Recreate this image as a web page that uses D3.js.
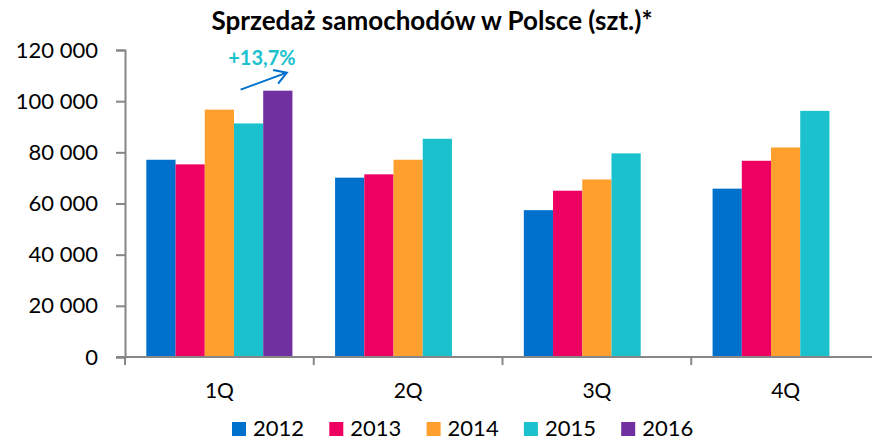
<!DOCTYPE html>
<html>
<head>
<meta charset="utf-8">
<script src="https://cdn.jsdelivr.net/npm/d3@7"></script>
<style>
  body { margin: 0; background: #fff; }
  svg text { font-family: Lato, "Open Sans", sans-serif; fill: #000; }
</style>
</head>
<body>
<div id="chart"></div>
<script>
// data
const quarters = ["1Q", "2Q", "3Q", "4Q"];
const years = ["2012", "2013", "2014", "2015", "2016"];
const sales2012 = [77100, 70100, 57400, 65800];
const sales2013 = [75300, 71400, 65000, 76700];
const sales2014 = [96700, 77100, 69400, 81900];
const sales2015 = [91300, 85300, 79600, 96200];
const sales2016 = [104100, null, null, null];
const yTicks = [0, 20000, 40000, 60000, 80000, 100000, 120000];
const colors = ["#0070cd", "#ee0062", "#ff9f2e", "#1bc1cd", "#7030a0"];
const titleText = "Sprzedaż samochodów w Polsce (szt.)*";
const noteText = "+13,7%";

const seriesValues = [sales2012, sales2013, sales2014, sales2015, sales2016];

var width = 872, height = 440;
var margin = {top: 50, right: -8, bottom: 83, left: 125};

const svg = d3.select("#chart")
  .append("svg")
    .attr("width", width)
    .attr("height", height);

// scales
var x0 = d3.scaleBand()
    .domain(quarters)
    .range([margin.left, width - margin.right])
    .padding(0);

var x1 = d3.scaleBand()
    .domain(years)
    .range([0, x0.bandwidth()])
    .paddingInner(0)
    .paddingOuter(0.73);

var y = d3.scaleLinear()
    .domain([0, 120000])
    .range([height - margin.bottom, margin.top]);

const fmt = v => d3.format(",")(v).replace(/,/g, " ");

// title
svg.append("text")
    .attr("x", 432)
    .attr("y", 30)
    .attr("text-anchor", "middle")
    .style("font-size", "26px")
    .style("font-weight", "bold")
    .text(titleText);

// bars
years.forEach(function(yr, i) {
  const rows = quarters.map((q, j) => ({q: q, v: seriesValues[i][j]})).filter(d => d.v != null);
  svg.append("g")
    .selectAll("rect")
    .data(rows)
    .enter()
    .append("rect")
      .attr("x", d => x0(d.q) + x1(yr))
      .attr("width", x1.bandwidth())
      .attr("y", d => y(d.v))
      .attr("height", d => y(0) - y(d.v))
      .style("fill", colors[i]);
});

// y axis
const yAxis = svg.append("g")
    .attr("transform", "translate(" + margin.left + ",0)")
    .call(d3.axisLeft(y).tickValues(yTicks).tickFormat(fmt).tickSizeOuter(0).tickSize(9).tickPadding(18));
yAxis.select(".domain").attr("stroke", "#868686").attr("stroke-width", 2);
yAxis.selectAll(".tick line").attr("stroke", "#868686").attr("stroke-width", 2);
yAxis.selectAll(".tick text")
    .style("font-size", "22px")
    .style("font-family", "Lato, sans-serif");

// x axis
const xAxis = svg.append("g")
    .attr("transform", "translate(0," + y(0) + ")")
    .call(d3.axisBottom(x0).tickSize(0).tickPadding(26));
xAxis.select(".domain").remove();
xAxis.append("line")
    .attr("x1", margin.left - 9).attr("x2", width)
    .attr("stroke", "#868686").attr("stroke-width", 2);
xAxis.selectAll(".bound")
    .data(quarters)
    .enter()
    .append("line")
      .attr("class", "bound")
      .attr("x1", d => x0(d)).attr("x2", d => x0(d))
      .attr("y1", 0).attr("y2", 8)
      .attr("stroke", "#868686").attr("stroke-width", 2);
xAxis.selectAll(".tick text")
    .style("font-size", "21px")
    .style("font-family", "Lato, sans-serif");

// legend
const legend = svg.append("g")
    .attr("transform", "translate(232,422)");
const item = legend.selectAll("g")
    .data(years)
    .enter()
    .append("g")
      .attr("transform", (d, i) => "translate(" + (i * 97.3) + ",0)");
item.append("rect")
    .attr("width", 14).attr("height", 14)
    .style("fill", (d, i) => colors[i]);
item.append("text")
    .attr("x", 21).attr("y", 14)
    .style("font-size", "22px")
    .text(d => d);

// growth note with arrow above the 2016 bar
const tealX = x0("1Q") + x1("2015") + x1.bandwidth() / 2;
const purpX = x0("1Q") + x1("2016") + x1.bandwidth() / 2;
const topY = y(sales2016[0]);
const ax1 = tealX - 8, ay1 = topY - 1;
const ax2 = purpX + 9, ay2 = topY - 18;
const ang = Math.atan2(ay2 - ay1, ax2 - ax1);
const headLen = 14;
const arrow = svg.append("g")
    .attr("stroke", "#0070cd")
    .attr("stroke-width", 2)
    .attr("fill", "none");
arrow.append("line")
    .attr("x1", ax1).attr("y1", ay1).attr("x2", ax2).attr("y2", ay2);
arrow.append("path")
    .attr("d", d3.line()([
      [ax2 - headLen * Math.cos(ang - 0.55), ay2 - headLen * Math.sin(ang - 0.55)],
      [ax2, ay2],
      [ax2 - headLen * Math.cos(ang + 0.55), ay2 - headLen * Math.sin(ang + 0.55)]
    ]));

svg.append("text")
    .attr("x", 262)
    .attr("y", 65)
    .attr("text-anchor", "middle")
    .style("font-size", "20px")
    .style("font-weight", "bold")
    .style("fill", "#1bc1cd")
    .text(noteText);
</script>
</body>
</html>
